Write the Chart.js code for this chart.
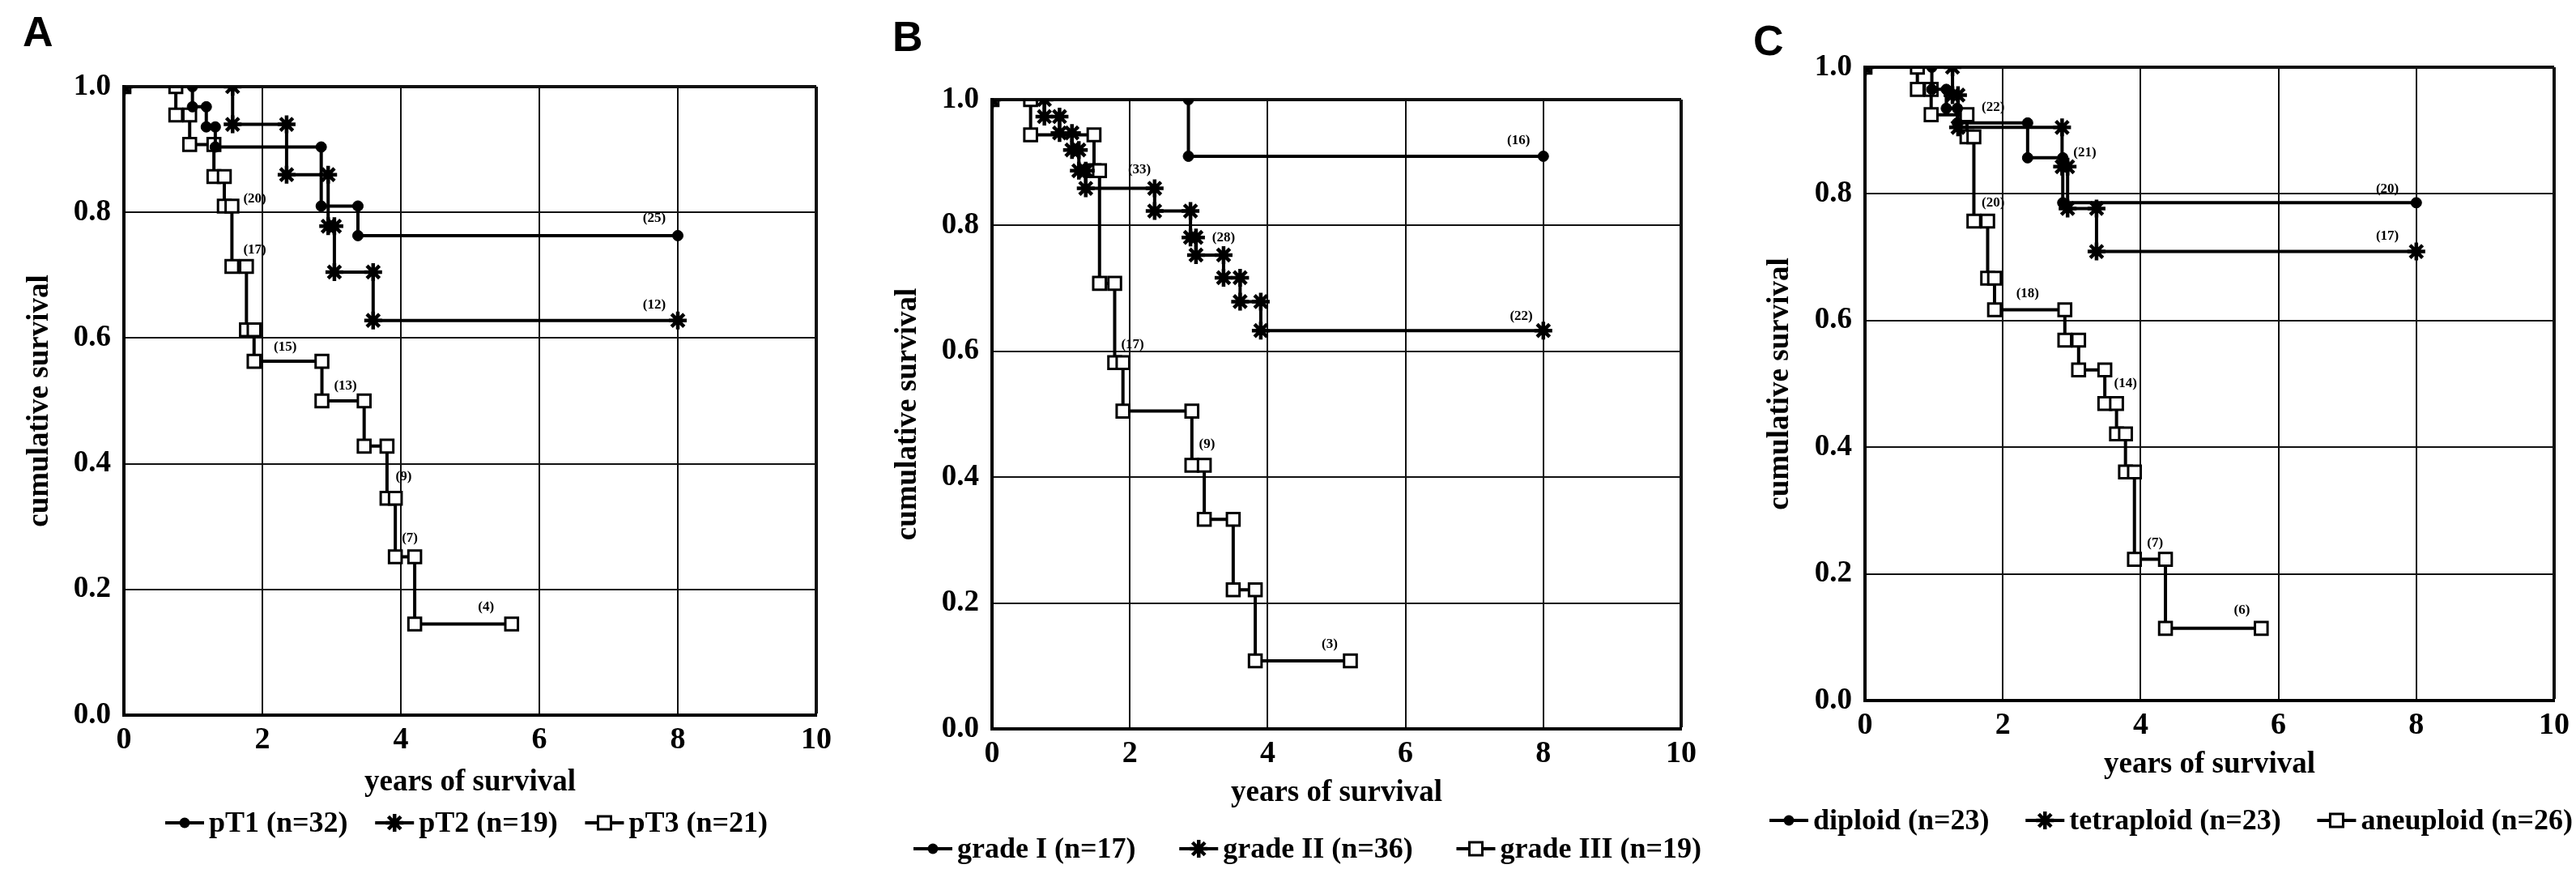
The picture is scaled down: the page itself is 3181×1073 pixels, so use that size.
<!DOCTYPE html>
<html>
<head>
<meta charset="utf-8">
<script src="https://cdn.jsdelivr.net/npm/chart.js@4.4.1/dist/chart.umd.min.js"></script>
<style>
  html, body { margin: 0; padding: 0; background: #fff; }
  #wrap { position: relative; width: 3181px; height: 1073px; overflow: hidden; }
  #wrap canvas { position: absolute; top: 0; }
</style>
</head>
<body>
<div id="wrap">
  <canvas id="chartA" width="1060" height="1073" style="left:0px"></canvas>
  <canvas id="chartB" width="1060" height="1073" style="left:1060px"></canvas>
  <canvas id="chartC" width="1061" height="1073" style="left:2120px"></canvas>
</div>
<script>
// ---- data ----
const xTicks = [0, 2, 4, 6, 8, 10];
const yTicks = [0.0, 0.2, 0.4, 0.6, 0.8, 1.0];

// A: pT stage
const pT1Times = [0.99, 1.19, 1.32, 2.85, 3.38];
const pT1Surv  = [0.968, 0.936, 0.904, 0.81, 0.763];
const pT1End = 8.0;
const pT2Times = [1.57, 2.35, 2.95, 3.04, 3.6];
const pT2Surv  = [0.94, 0.86, 0.778, 0.705, 0.628];
const pT2End = 8.0;
const pT3Times = [0.75, 0.95, 1.3, 1.45, 1.56, 1.77, 1.88, 2.86, 3.47, 3.8, 3.92, 4.2];
const pT3Surv  = [0.955, 0.908, 0.857, 0.81, 0.714, 0.613, 0.563, 0.5, 0.428, 0.345, 0.252, 0.145];
const pT3End = 5.6;
const notesA = [[7.66, 0.79, '(25)'], [7.66, 0.652, '(12)'], [1.89, 0.822, '(20)'], [1.89, 0.74, '(17)'],
                [2.33, 0.586, '(15)'], [3.2, 0.524, '(13)'], [4.04, 0.379, '(9)'], [4.13, 0.282, '(7)'], [5.23, 0.172, '(4)']];

// B: grade
const g1Times = [2.85];
const g1Surv  = [0.91];
const g1End = 8.0;
const g2Times = [0.76, 0.98, 1.16, 1.26, 1.36, 2.36, 2.88, 2.96, 3.36, 3.6, 3.9];
const g2Surv  = [0.973, 0.947, 0.92, 0.887, 0.859, 0.823, 0.781, 0.753, 0.717, 0.679, 0.633];
const g2End = 8.0;
const g3Times = [0.56, 1.48, 1.56, 1.78, 1.9, 2.9, 3.08, 3.5, 3.82];
const g3Surv  = [0.944, 0.887, 0.708, 0.582, 0.505, 0.419, 0.333, 0.221, 0.108];
const g3End = 5.2;
const notesB = [[7.64, 0.935, '(16)'], [2.14, 0.888, '(33)'], [3.36, 0.78, '(28)'], [7.68, 0.655, '(22)'],
                [2.04, 0.61, '(17)'], [3.12, 0.452, '(9)'], [4.9, 0.134, '(3)']];

// C: ploidy
const dipTimes = [0.97, 1.18, 1.34, 2.36, 2.87];
const dipSurv  = [0.965, 0.935, 0.912, 0.857, 0.786];
const dipEnd = 8.0;
const tetTimes = [1.27, 1.35, 2.86, 2.94, 3.36];
const tetSurv  = [0.956, 0.905, 0.843, 0.777, 0.709];
const tetEnd = 8.0;
const aneTimes = [0.76, 0.96, 1.48, 1.58, 1.78, 1.88, 2.9, 3.1, 3.48, 3.65, 3.78, 3.91, 4.36];
const aneSurv  = [0.965, 0.925, 0.89, 0.757, 0.667, 0.617, 0.569, 0.522, 0.469, 0.421, 0.361, 0.223, 0.114];
const aneEnd = 5.75;
const notesC = [[1.86, 0.936, '(22)'], [3.19, 0.865, '(21)'], [7.58, 0.808, '(20)'], [7.58, 0.733, '(17)'],
                [1.86, 0.786, '(20)'], [2.36, 0.643, '(18)'], [3.78, 0.5, '(14)'], [4.21, 0.249, '(7)'], [5.47, 0.143, '(6)']];

const SERIF = '"Liberation Serif", "Times New Roman", serif';

// Kaplan-Meier corners: horizontal run, then the drop, marker at every corner
function kmPoints(times, surv, endTime) {
    const pts = [{ x: 0, y: 1 }];
    let prev = 1;
    times.forEach((t, i) => {
        pts.push({ x: t, y: prev });
        pts.push({ x: t, y: surv[i] });
        prev = surv[i];
    });
    pts.push({ x: endTime, y: prev });
    return pts;
}

const markerStyles = {
    dot:    { pointStyle: 'circle', pointRadius: 6.5, pointBackgroundColor: '#000', pointBorderWidth: 1 },
    star:   { pointStyle: 'star', pointRadius: 11, pointBackgroundColor: '#000', pointBorderWidth: 4.5 },
    square: { pointStyle: 'rect', pointRadius: 11, pointBackgroundColor: '#fff', pointBorderWidth: 3 }
};

function kmDataset(label, pts, marker) {
    return Object.assign({
        label: label,
        data: pts,
        borderColor: '#000',
        borderWidth: 4,
        pointBorderColor: '#000',
        fill: false,
        tension: 0
    }, markerStyles[marker]);
}

// draws the panel letter, the numbers at risk and the line+marker legend
const kmDeco = {
    id: 'kmDeco',
    afterDraw(chart, args, opts) {
        const ctx = chart.ctx;
        const xs = chart.scales.x, ys = chart.scales.y;
        ctx.save();
        ctx.fillStyle = '#000';

        // panel letter
        ctx.font = 'bold 52px "Liberation Sans", Arial, sans-serif';
        ctx.textAlign = 'left';
        ctx.textBaseline = 'alphabetic';
        ctx.fillText(opts.letter, opts.letterX, opts.letterY);

        // numbers at risk
        ctx.font = 'bold 17px ' + SERIF;
        ctx.textAlign = 'center';
        ctx.textBaseline = 'middle';
        (opts.notes || []).forEach(n => {
            ctx.fillText(n[2], xs.getPixelForValue(n[0]), ys.getPixelForValue(n[1]));
        });

        // legend
        ctx.font = 'bold 36px ' + SERIF;
        ctx.textAlign = 'left';
        const symW = 48, symGap = 6;
        const items = chart.data.datasets.map(d => ({
            label: d.label, style: d.pointStyle, w: symW + symGap + ctx.measureText(d.label).width
        }));
        const total = items.reduce((s, it) => s + it.w, 0);
        const gap = (opts.legendRight - opts.legendLeft - total) / (items.length - 1);
        let x = opts.legendLeft;
        const y = opts.legendY;
        items.forEach(it => {
            ctx.strokeStyle = '#000';
            ctx.lineWidth = 4;
            ctx.beginPath();
            ctx.moveTo(x, y);
            ctx.lineTo(x + symW, y);
            ctx.stroke();
            drawMarker(ctx, it.style, x + symW / 2, y);
            ctx.fillStyle = '#000';
            ctx.fillText(it.label, x + symW + symGap, y + 2);
            x += it.w + gap;
        });
        ctx.restore();
    }
};

function drawMarker(ctx, style, x, y) {
    ctx.save();
    ctx.strokeStyle = '#000';
    ctx.fillStyle = '#000';
    if (style === 'circle') {
        ctx.beginPath();
        ctx.arc(x, y, 6.5, 0, Math.PI * 2);
        ctx.fill();
    } else if (style === 'star') {
        ctx.lineWidth = 4.5;
        ctx.beginPath();
        for (let k = 0; k < 4; k++) {
            const a = k * Math.PI / 4;
            ctx.moveTo(x + Math.cos(a) * 11, y + Math.sin(a) * 11);
            ctx.lineTo(x - Math.cos(a) * 11, y - Math.sin(a) * 11);
        }
        ctx.stroke();
    } else {
        ctx.lineWidth = 3;
        ctx.fillStyle = '#fff';
        ctx.fillRect(x - 8, y - 8, 16, 16);
        ctx.strokeRect(x - 8, y - 8, 16, 16);
    }
    ctx.restore();
}

function makeChart(canvasId, datasets, deco, lay) {
    const options = {
        responsive: false,
        animation: false,
        layout: { padding: { left: lay.padLeft, right: lay.padRight, top: lay.padTop, bottom: lay.padBottom } },
        scales: {
            x: {
                type: 'linear',
                min: 0,
                max: 10,
                afterBuildTicks: (scale) => { scale.ticks = xTicks.map(v => ({ value: v })); },
                afterFit: (scale) => { scale.height = 110; },
                grid: {
                    color: '#111',
                    lineWidth: (c) => (c.tick && c.tick.value === 10 ? 4 : 2),
                    drawTicks: false
                },
                border: { display: true, color: '#000', width: 4 },
                ticks: {
                    padding: 8,
                    color: '#000',
                    font: { family: SERIF, size: 38, weight: 'bold' },
                    maxRotation: 0
                },
                title: {
                    display: true,
                    text: 'years of survival',
                    color: '#000',
                    font: { family: SERIF, size: 37, weight: 'bold' },
                    padding: { top: 0, bottom: lay.xTitlePad }
                }
            },
            y: {
                type: 'linear',
                min: 0,
                max: 1,
                afterBuildTicks: (scale) => { scale.ticks = yTicks.map(v => ({ value: v })); },
                afterFit: (scale) => { scale.width = 140; },
                grid: {
                    color: '#111',
                    lineWidth: (c) => (c.tick && c.tick.value === 1 ? 4 : 2),
                    drawTicks: false
                },
                border: { display: true, color: '#000', width: 4 },
                ticks: {
                    padding: 16,
                    color: '#000',
                    font: { family: SERIF, size: 37, weight: 'bold' },
                    callback: (v) => Number(v).toFixed(1)
                },
                title: {
                    display: true,
                    text: 'cumulative survival',
                    color: '#000',
                    font: { family: SERIF, size: 37, weight: 'bold' },
                    padding: { top: lay.yTitlePad, bottom: 0 }
                }
            }
        },
        plugins: {
            legend: { display: false },
            tooltip: { enabled: false },
            kmDeco: deco
        }
    };

    return new Chart(document.getElementById(canvasId), {
        type: 'line',
        data: { datasets: datasets },
        options: options,
        plugins: [kmDeco]
    });
}

makeChart('chartA', [
    kmDataset('pT1 (n=32)', kmPoints(pT1Times, pT1Surv, pT1End), 'dot'),
    kmDataset('pT2 (n=19)', kmPoints(pT2Times, pT2Surv, pT2End), 'star'),
    kmDataset('pT3 (n=21)', kmPoints(pT3Times, pT3Surv, pT3End), 'square')
], { letter: 'A', letterX: 28, letterY: 57, notes: notesA, legendLeft: 204, legendRight: 948, legendY: 1016 },
   { padLeft: 13, padRight: 52, padTop: 107, padBottom: 80, xTitlePad: 4, yTitlePad: 14 });

makeChart('chartB', [
    kmDataset('grade I (n=17)', kmPoints(g1Times, g1Surv, g1End), 'dot'),
    kmDataset('grade II (n=36)', kmPoints(g2Times, g2Surv, g2End), 'star'),
    kmDataset('grade III (n=19)', kmPoints(g3Times, g3Surv, g3End), 'square')
], { letter: 'B', letterX: 42, letterY: 63, notes: notesB, legendLeft: 68, legendRight: 1041, legendY: 1048 },
   { padLeft: 25, padRight: 44, padTop: 123, padBottom: 63, xTitlePad: 8, yTitlePad: 14 });

makeChart('chartC', [
    kmDataset('diploid (n=23)', kmPoints(dipTimes, dipSurv, dipEnd), 'dot'),
    kmDataset('tetraploid (n=23)', kmPoints(tetTimes, tetSurv, tetEnd), 'star'),
    kmDataset('aneuploid (n=26)', kmPoints(aneTimes, aneSurv, aneEnd), 'square')
], { letter: 'C', letterX: 45, letterY: 68, notes: notesC, legendLeft: 65, legendRight: 1057, legendY: 1013 },
   { padLeft: 43, padRight: 26, padTop: 83, padBottom: 98, xTitlePad: 8, yTitlePad: 13 });
</script>
</body>
</html>
